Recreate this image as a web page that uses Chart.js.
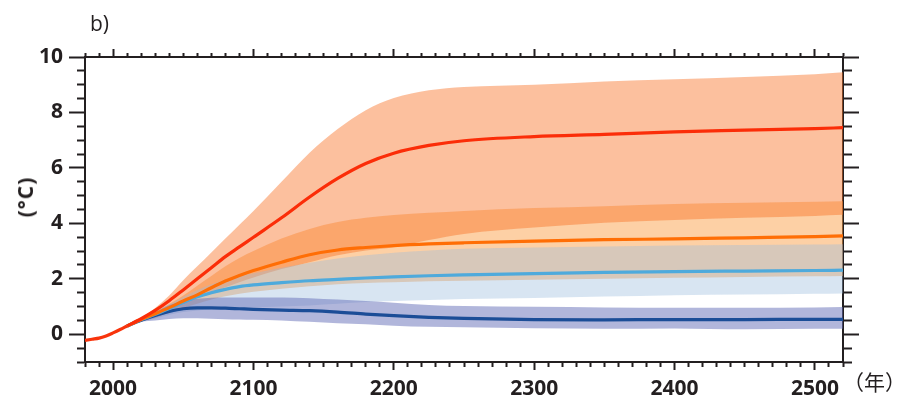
<!DOCTYPE html>
<html>
<head>
<meta charset="utf-8">
<script src="https://cdn.jsdelivr.net/npm/chart.js@4/dist/chart.umd.min.js"></script>
<style>
  body { margin: 0; background: #fff; }
  #wrap { position: relative; width: 900px; height: 397px; }
  .lbl { position: absolute; color: #231f20; white-space: nowrap; }
  #panel { left: 90px; top: 9px; font: 400 21px "Open Sans", sans-serif; }
  #unit { left: 25px; top: 197px; font: 700 21px "Open Sans", sans-serif; letter-spacing: 1px;
          transform: translate(-50%, -50%) rotate(-90deg); }
  #year { left: 843px; top: 366px; font: 400 21px "Noto Sans CJK JP", sans-serif; }
</style>
</head>
<body>
<div id="wrap">
  <canvas id="chart"></canvas>
  <div class="lbl" id="panel">b)</div>
  <div class="lbl" id="unit">(°C)</div>
  <div class="lbl" id="year">（年）</div>
</div>
<script>
// observed record
const histYears = [1980, 1985, 1990, 1995, 2000, 2005, 2010];
const histTemp = [-0.22, -0.18, -0.14, -0.06, 0.05, 0.17, 0.3];

// projection years
const years = [2010, 2020, 2030, 2040, 2050, 2060, 2070, 2080, 2090, 2100, 2120, 2140, 2160,
  2180, 2200, 2225, 2250, 2300, 2350, 2400, 2450, 2500, 2520];

// high scenario (red)
const redMid = [0.3, 0.56, 0.86, 1.21, 1.6, 2.0, 2.4, 2.8, 3.15, 3.5, 4.2, 4.95, 5.62, 6.16, 6.53, 6.81, 6.98, 7.13, 7.21, 7.3, 7.36, 7.42, 7.45];
const redHigh = [0.31, 0.6, 0.95, 1.4, 1.95, 2.45, 2.95, 3.45, 3.95, 4.45, 5.5, 6.55, 7.4, 8.08, 8.52, 8.8, 8.92, 9.0, 9.12, 9.2, 9.28, 9.38, 9.45];
const redLow = [0.29, 0.47, 0.68, 0.9, 1.1, 1.3, 1.5, 1.7, 1.88, 2.05, 2.35, 2.6, 2.85, 3.02, 3.14, 3.4, 3.62, 3.85, 4.02, 4.12, 4.2, 4.27, 4.31];

// upper-middle scenario (orange)
const orgMid = [0.3, 0.53, 0.74, 0.96, 1.2, 1.42, 1.68, 1.92, 2.12, 2.3, 2.6, 2.87, 3.04, 3.13, 3.2, 3.26, 3.3, 3.36, 3.41, 3.44, 3.48, 3.52, 3.55];
const orgHigh = [0.31, 0.57, 0.82, 1.08, 1.4, 1.75, 2.1, 2.45, 2.75, 3.0, 3.45, 3.8, 4.05, 4.2, 4.3, 4.38, 4.45, 4.55, 4.62, 4.7, 4.74, 4.78, 4.8];
const orgLow = [0.29, 0.46, 0.6, 0.78, 0.95, 1.1, 1.25, 1.37, 1.46, 1.53, 1.64, 1.73, 1.8, 1.85, 1.88, 1.91, 1.93, 1.97, 2.0, 2.04, 2.07, 2.09, 2.1];

// lower-middle scenario (light blue)
const lbMid = [0.3, 0.53, 0.72, 0.93, 1.15, 1.35, 1.5, 1.62, 1.72, 1.78, 1.86, 1.93, 1.98, 2.03, 2.07, 2.11, 2.14, 2.19, 2.23, 2.26, 2.28, 2.3, 2.31];
const lbHigh = [0.31, 0.57, 0.8, 1.08, 1.35, 1.6, 1.8, 1.97, 2.1, 2.2, 2.4, 2.58, 2.73, 2.85, 2.94, 3.02, 3.08, 3.13, 3.17, 3.2, 3.22, 3.24, 3.25];
const lbLow = [0.29, 0.46, 0.57, 0.7, 0.8, 0.86, 0.9, 0.93, 0.95, 0.97, 1.0, 1.04, 1.1, 1.16, 1.2, 1.24, 1.27, 1.31, 1.36, 1.41, 1.43, 1.46, 1.47];

// low scenario (dark blue)
const dbMid = [0.3, 0.51, 0.68, 0.82, 0.92, 0.95, 0.95, 0.94, 0.92, 0.9, 0.87, 0.85, 0.8, 0.73, 0.67, 0.61, 0.57, 0.53, 0.52, 0.53, 0.53, 0.54, 0.54];
const dbHigh = [0.31, 0.57, 0.8, 1.05, 1.2, 1.28, 1.32, 1.33, 1.33, 1.33, 1.33, 1.3, 1.25, 1.2, 1.14, 1.06, 1.02, 0.99, 0.97, 0.96, 0.96, 0.97, 0.98];
const dbLow = [0.29, 0.45, 0.5, 0.55, 0.58, 0.58, 0.56, 0.54, 0.53, 0.52, 0.5, 0.45, 0.4, 0.36, 0.31, 0.27, 0.25, 0.22, 0.2, 0.21, 0.18, 0.2, 0.2];

const pts = (xs, ys) => xs.map((x, i) => ({ x: x, y: ys[i] }));

const line = (data, color, order) => ({
  data: data, borderColor: color, borderWidth: 3.2, pointRadius: 0,
  fill: false, order: order, cubicInterpolationMode: "monotone"
});

// upper edge fills down to the dataset right after it
const band = (data, color, order) => ({
  data: data, borderWidth: 0, borderColor: "rgba(0,0,0,0)", pointRadius: 0,
  backgroundColor: color, fill: "+1", order: order, cubicInterpolationMode: "monotone"
});
const edge = (data, order) => ({
  data: data, borderWidth: 0, borderColor: "rgba(0,0,0,0)", pointRadius: 0,
  fill: false, order: order, cubicInterpolationMode: "monotone"
});

const datasets = [
  line(pts(histYears, histTemp), "#f8340c", -1),
  line(pts(years, redMid), "#fb2d08", 0),
  line(pts(years, orgMid), "#ff6e05", 1),
  line(pts(years, lbMid), "#4eaadc", 2),
  line(pts(years, dbMid), "#1b4d97", 3),
  band(pts(years, dbHigh), "rgba(99,109,183,0.5)", 10),
  edge(pts(years, dbLow), 10),
  band(pts(years, lbHigh), "rgba(152,187,222,0.38)", 11),
  edge(pts(years, lbLow), 11),
  band(pts(years, redHigh), "rgba(248,115,39,0.45)", 12),
  edge(pts(years, redLow), 12),
  band(pts(years, orgHigh), "rgba(251,161,75,0.5)", 13),
  edge(pts(years, orgLow), 13)
];

const axisColor = "#231f20";
const tickFont = { family: "'Open Sans', sans-serif", size: 21, weight: "bold" };

// minor ticks are drawn as the inner part of a full-length tick using a dash
function tickGrid(len, minorLen, outerFirst, isMajor) {
  return {
    drawOnChartArea: false,
    tickLength: len,
    tickWidth: 2,
    tickColor: axisColor,
    tickBorderDash: (ctx) => (ctx.tick && !isMajor(ctx.tick.value)) ? (outerFirst ? [minorLen, len - minorLen] : [minorLen, len]) : [],
    tickBorderDashOffset: (ctx) => (ctx.tick && !isMajor(ctx.tick.value) && outerFirst) ? minorLen : 0
  };
}
const xMajor = (v) => Math.round(v) % 100 === 0;
const yMajor = (v) => Math.abs(v % 2) < 1e-6;

const xCommon = { type: "linear", min: 1980, max: 2520, border: { width: 2, color: axisColor } };
const yCommon = { type: "linear", min: -1, max: 10, border: { width: 2, color: axisColor } };

new Chart(document.getElementById("chart"), {
  type: "line",
  data: { datasets: datasets },
  options: {
    responsive: true,
    maintainAspectRatio: false,
    animation: false,
    layout: { padding: 0 },
    plugins: {
      legend: { display: false },
      tooltip: { enabled: false },
      filler: { drawTime: "beforeDatasetsDraw" }
    },
    scales: {
      x: Object.assign({}, xCommon, {
        position: "bottom",
        grid: tickGrid(8, 4, false, xMajor),
        ticks: {
          stepSize: 10, autoSkip: false, maxTicksLimit: 100, maxRotation: 0, padding: 6,
          color: axisColor, font: tickFont,
          callback: (v) => xMajor(v) ? String(v) : ""
        },
        afterFit: (s) => { s.height = 35; }
      }),
      xTop: Object.assign({}, xCommon, {
        position: "top",
        grid: tickGrid(8, 4, true, xMajor),
        ticks: { stepSize: 10, autoSkip: false, maxTicksLimit: 100, callback: () => "" },
        afterFit: (s) => { s.height = 57; }
      }),
      y: Object.assign({}, yCommon, {
        position: "left",
        grid: tickGrid(16, 8, true, yMajor),
        ticks: {
          stepSize: 0.5, autoSkip: false, maxTicksLimit: 100, padding: 6,
          color: axisColor, font: tickFont,
          callback: (v) => yMajor(v) ? String(v) : ""
        },
        afterFit: (s) => { s.width = 85; }
      }),
      yRight: Object.assign({}, yCommon, {
        position: "right",
        grid: tickGrid(16, 8, false, yMajor),
        ticks: { stepSize: 0.5, autoSkip: false, maxTicksLimit: 100, callback: () => "" },
        afterFit: (s) => { s.width = 57; }
      })
    }
  }
});
</script>
</body>
</html>
